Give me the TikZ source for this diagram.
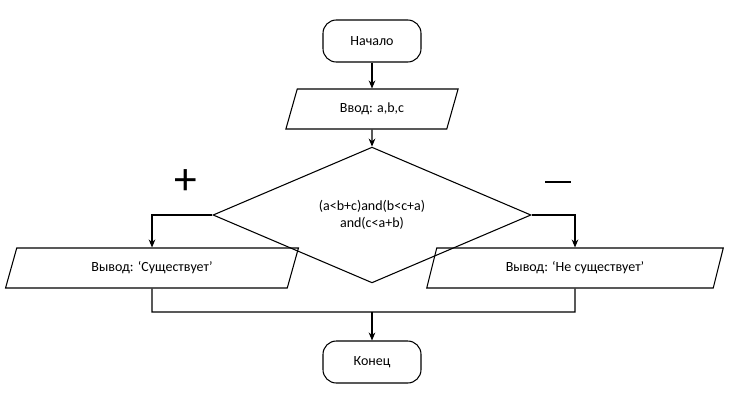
\documentclass[tikz,border=0pt]{standalone}
\usepackage{fontspec}
\setmainfont{Carlito}
\usetikzlibrary{arrows.meta,shapes.geometric,positioning}

\newlength{\pxu}\setlength{\pxu}{0.75pt}
\tikzset{
  term/.style={draw, rounded corners=10pt, minimum width=98\pxu, minimum height=42\pxu},
  io/.style={draw, trapezium, trapezium left angle=68, trapezium right angle=112,
    trapezium stretches=true, minimum height=40\pxu, inner sep=0pt},
  cond/.style={draw, diamond, minimum width=318\pxu, minimum height=106\pxu, inner sep=0pt, align=center},
  flow/.style={-{Stealth[length=6pt,width=5pt]}},
  branch/.style={font=\fontsize{34}{34}\selectfont}
}

\begin{document}
\begin{tikzpicture}[x=0.75pt, y=-0.75pt, every node/.style={font=\fontsize{10.5}{13}\selectfont}, line width=0.8pt]
\useasboundingbox (0,0) rectangle (753,400);

% Blocks
\node[term] (start) at (372,41) {Начало};
\node[io, minimum width=173\pxu] (input) at (372,109) {Ввод: a,b,c};
\node[cond] (check) at (372,215) {(a<b+c)and(b<c+a)\\and(c<a+b)};
\node[io, minimum width=295\pxu] (yes) at (152,268) {Вывод: ‘Существует’};
\node[io, minimum width=297\pxu] (no) at (575,268) {Вывод: ‘Не существует’};
\node[term] (stop) at (372,362) {Конец};

% Branch marks
\node[branch] (plus) at (186,182) {+};
\node[branch] (minus) at (558,182) {\rule{26\pxu}{1.2pt}};

% Join points
\coordinate (jl) at (152,312);
\coordinate (jm) at (372,312);
\coordinate (jr) at (575,312);

% Connectors
\draw[flow] (start) -- (input);
\draw[flow] (input) -- (check);
\draw[flow] (check.west) -| (yes.north);
\draw[flow] (check.east) -| (no.north);
\draw (yes.south) -- (jl) -- (jr) -- (no.south);
\draw[flow] (jm) -- (stop);

\end{tikzpicture}
\end{document}
